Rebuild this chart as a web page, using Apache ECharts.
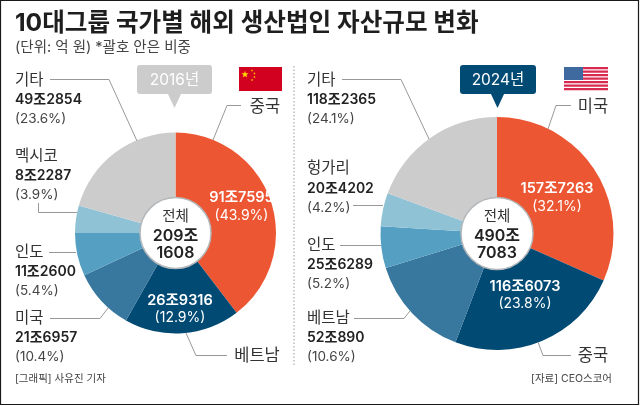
<!DOCTYPE html>
<html><head><meta charset="utf-8">
<style>html,body{margin:0;padding:0;background:#fff}#c{width:640px;height:406px}</style>
<script src="https://cdn.jsdelivr.net/npm/echarts@6/dist/echarts.min.js"></script>
</head><body><div id="c"></div>
<script>
const titleText = '10대그룹 국가별 해외 생산법인 자산규모 변화';
const subtitleText = '(단위: 억 원) *괄호 안은 비중';
const categories2016 = ['중국','베트남','미국','인도','멕시코','기타'];
const amounts2016 = ['91조7595','26조9316','21조6957','11조2600','8조2287','49조2854'];
const percents2016 = ['(43.9%)','(12.9%)','(10.4%)','(5.4%)','(3.9%)','(23.6%)'];
const drawnShares2016 = [39.6,18.6,9.9,6.9,4.4,20.6];
const categories2024 = ['미국','중국','베트남','인도','헝가리','기타'];
const amounts2024 = ['157조7263','116조6073','52조890','25조6289','20조4202','118조2365'];
const percents2024 = ['(32.1%)','(23.8%)','(10.6%)','(5.2%)','(4.2%)','(24.1%)'];
const drawnShares2024 = [31.6,24.2,14.4,5.8,4.6,19.4];
const sliceColors = ['#ec5632','#004a73','#38789f','#55a0c2','#90c2d6','#cccccc'];
const FONT = 'Inter, "Noto Sans CJK KR"';
const INK = '#222222';

const g = [];
function txt(x,y,text,size,o={}){
  g.push({type:'text',z:20,x,y:y+0.8,style:{text,font:`${o.weight||'normal'} ${size}px ${FONT}`,fill:o.fill||INK,
    align:o.align||'left',verticalAlign:'middle'}});
}
function line(points,color='#999999'){
  g.push({type:'polyline',z:5,shape:{points},style:{stroke:color,lineWidth:1,fill:null}});
}
function block(x,ys,name,amount,pct){
  txt(x,ys[0],name,15.5,{fill:'#333'});
  txt(x,ys[1],amount,14,{weight:600});
  txt(x,ys[2],pct,13.5,{fill:'#444'});
}
function inner(cx,ys,amount,pct){
  txt(cx,ys[0],amount,14.5,{weight:600,fill:'#fff',align:'center'});
  txt(cx,ys[1],pct,14,{fill:'#fff',align:'center'});
}
function centre(cx,cy,r,total1,total2){
  g.push({type:'circle',z:10,shape:{cx,cy,r},style:{fill:'#fff',stroke:'#b4b8bb',lineWidth:1.5}});
  txt(cx,216,'전체',14.5,{align:'center',fill:'#333'});
  txt(cx,235,total1,16,{weight:600,align:'center'});
  txt(cx,252,total2,16,{weight:600,align:'center'});
}
function badge(x,w,tipX,color,label){
  g.push({type:'rect',z:6,shape:{x,y:65,width:w,height:29,r:3},style:{fill:color}});
  g.push({type:'polygon',z:6,shape:{points:[[tipX-7,93],[tipX+7,93],[tipX,108]]},style:{fill:color}});
  txt(x+w/2,79.5,label,15.5,{fill:'#fff',align:'center'});
}
function star(cx,cy,R,fill,rot){
  const p=[];for(let i=0;i<10;i++){const a=-Math.PI/2+rot+i*Math.PI/5,r=i%2?R*0.4:R;p.push([cx+r*Math.cos(a),cy+r*Math.sin(a)]);}
  g.push({type:'polygon',z:7,shape:{points:p},style:{fill}});
}

g.push({type:'rect',z:30,shape:{x:0.5,y:0.5,width:638,height:404},style:{fill:null,stroke:'#1a1a1a',lineWidth:1.2}});
txt(15,23,titleText,24.6,{weight:'bold',fill:'#1e1e1e'});
txt(15,47,subtitleText,14.5,{fill:'#444'});
txt(15,378,'[그래픽] 사유진 기자',10.5,{fill:'#444'});
txt(612,378,'[자료] CEO스코어',10.5,{fill:'#444',align:'right'});
g.push({type:'line',z:4,shape:{x1:294,y1:66,x2:294,y2:365},style:{stroke:'#999',lineWidth:1,lineDash:[1.5,2]}});

badge(137,75,174.5,'#cccccc','2016년');
g.push({type:'rect',z:6,shape:{x:239,y:67,width:43,height:24},style:{fill:'#d2011f'}});
star(245,74.5,3.8,'#ffd400',0);
[[252,70.5],[254.5,73.5],[254.5,77],[252,80]].forEach(p=>star(p[0],p[1],1.4,'#ffd400',0.4));
txt(265,106,categories2016[0],16.5,{align:'center',fill:'#333'});
txt(257,355,categories2016[1],16.5,{align:'center',fill:'#333'});
inner(241.5,[197,215],amounts2016[0],percents2016[0]);
inner(180,[300,317],amounts2016[1],percents2016[1]);
block(15,[318,337,356],categories2016[2],amounts2016[2],percents2016[2]);
block(15,[252,271,290],categories2016[3],amounts2016[3],percents2016[3]);
block(15,[156,175,194],categories2016[4],amounts2016[4],percents2016[4]);
block(15,[80,99,118],categories2016[5],amounts2016[5],percents2016[5]);
line([[241,105.5],[227,105.5],[213,140]]);
line([[50,79.5],[109,79.5],[137,141]]);
line([[38.5,203],[38.5,212.5],[77,212.5]]);
line([[49,252.5],[76,252.5]]);
line([[50,318.5],[100,318.5],[108,308]]);
line([[227,355.5],[196,355.5],[186,333]]);
centre(175.5,233,35.5,'209조','1608');

badge(460,76,497.5,'#004a73','2024년');
for(let i=0;i<7;i++){g.push({type:'rect',z:6,shape:{x:564,y:67+i*3.5,width:44,height:2.2},style:{fill:'#d8294f'}});}
g.push({type:'rect',z:7,shape:{x:564,y:67,width:19,height:13},style:{fill:'#3f6a9f'}});
txt(593,106,categories2024[0],16.5,{align:'center',fill:'#333'});
txt(593,355,categories2024[1],16.5,{align:'center',fill:'#333'});
inner(557,[188,206],amounts2024[0],percents2024[0]);
inner(525,[286,303],amounts2024[1],percents2024[1]);
block(307,[318,337,356],categories2024[2],amounts2024[2],percents2024[2]);
block(307,[245,264,283],categories2024[3],amounts2024[3],percents2024[3]);
block(307,[168,188,207],categories2024[4],amounts2024[4],percents2024[4]);
block(307,[80,99,118],categories2024[5],amounts2024[5],percents2024[5]);
line([[571,105.5],[556,105.5],[548,129]]);
line([[571,355.5],[543,355.5],[538,342]]);
line([[342,79.5],[401,79.5],[429,139]]);
line([[353,205.5],[383,205.5]]);
line([[340,245.5],[381,245.5]]);
line([[354,318.5],[404,318.5],[410,311]]);
centre(497,233.5,36,'490조','7083');

function pie(center,radius,cats,vals){
  return {type:'pie',center,radius,startAngle:90,clockwise:true,silent:true,animation:false,
    label:{show:false},labelLine:{show:false},itemStyle:{borderWidth:0},
    data:cats.map((n,i)=>({name:n,value:vals[i],itemStyle:{color:sliceColors[i]}}))};
}
const chart = echarts.init(document.getElementById('c'),null,{renderer:'canvas'});
chart.setOption({backgroundColor:'#ffffff',animation:false,
  series:[pie([175.5,233],[30,100.5],categories2016,drawnShares2016),
          pie([497,233.5],[30,116.5],categories2024,drawnShares2024)],
  graphic:{elements:g}});
</script></body></html>
